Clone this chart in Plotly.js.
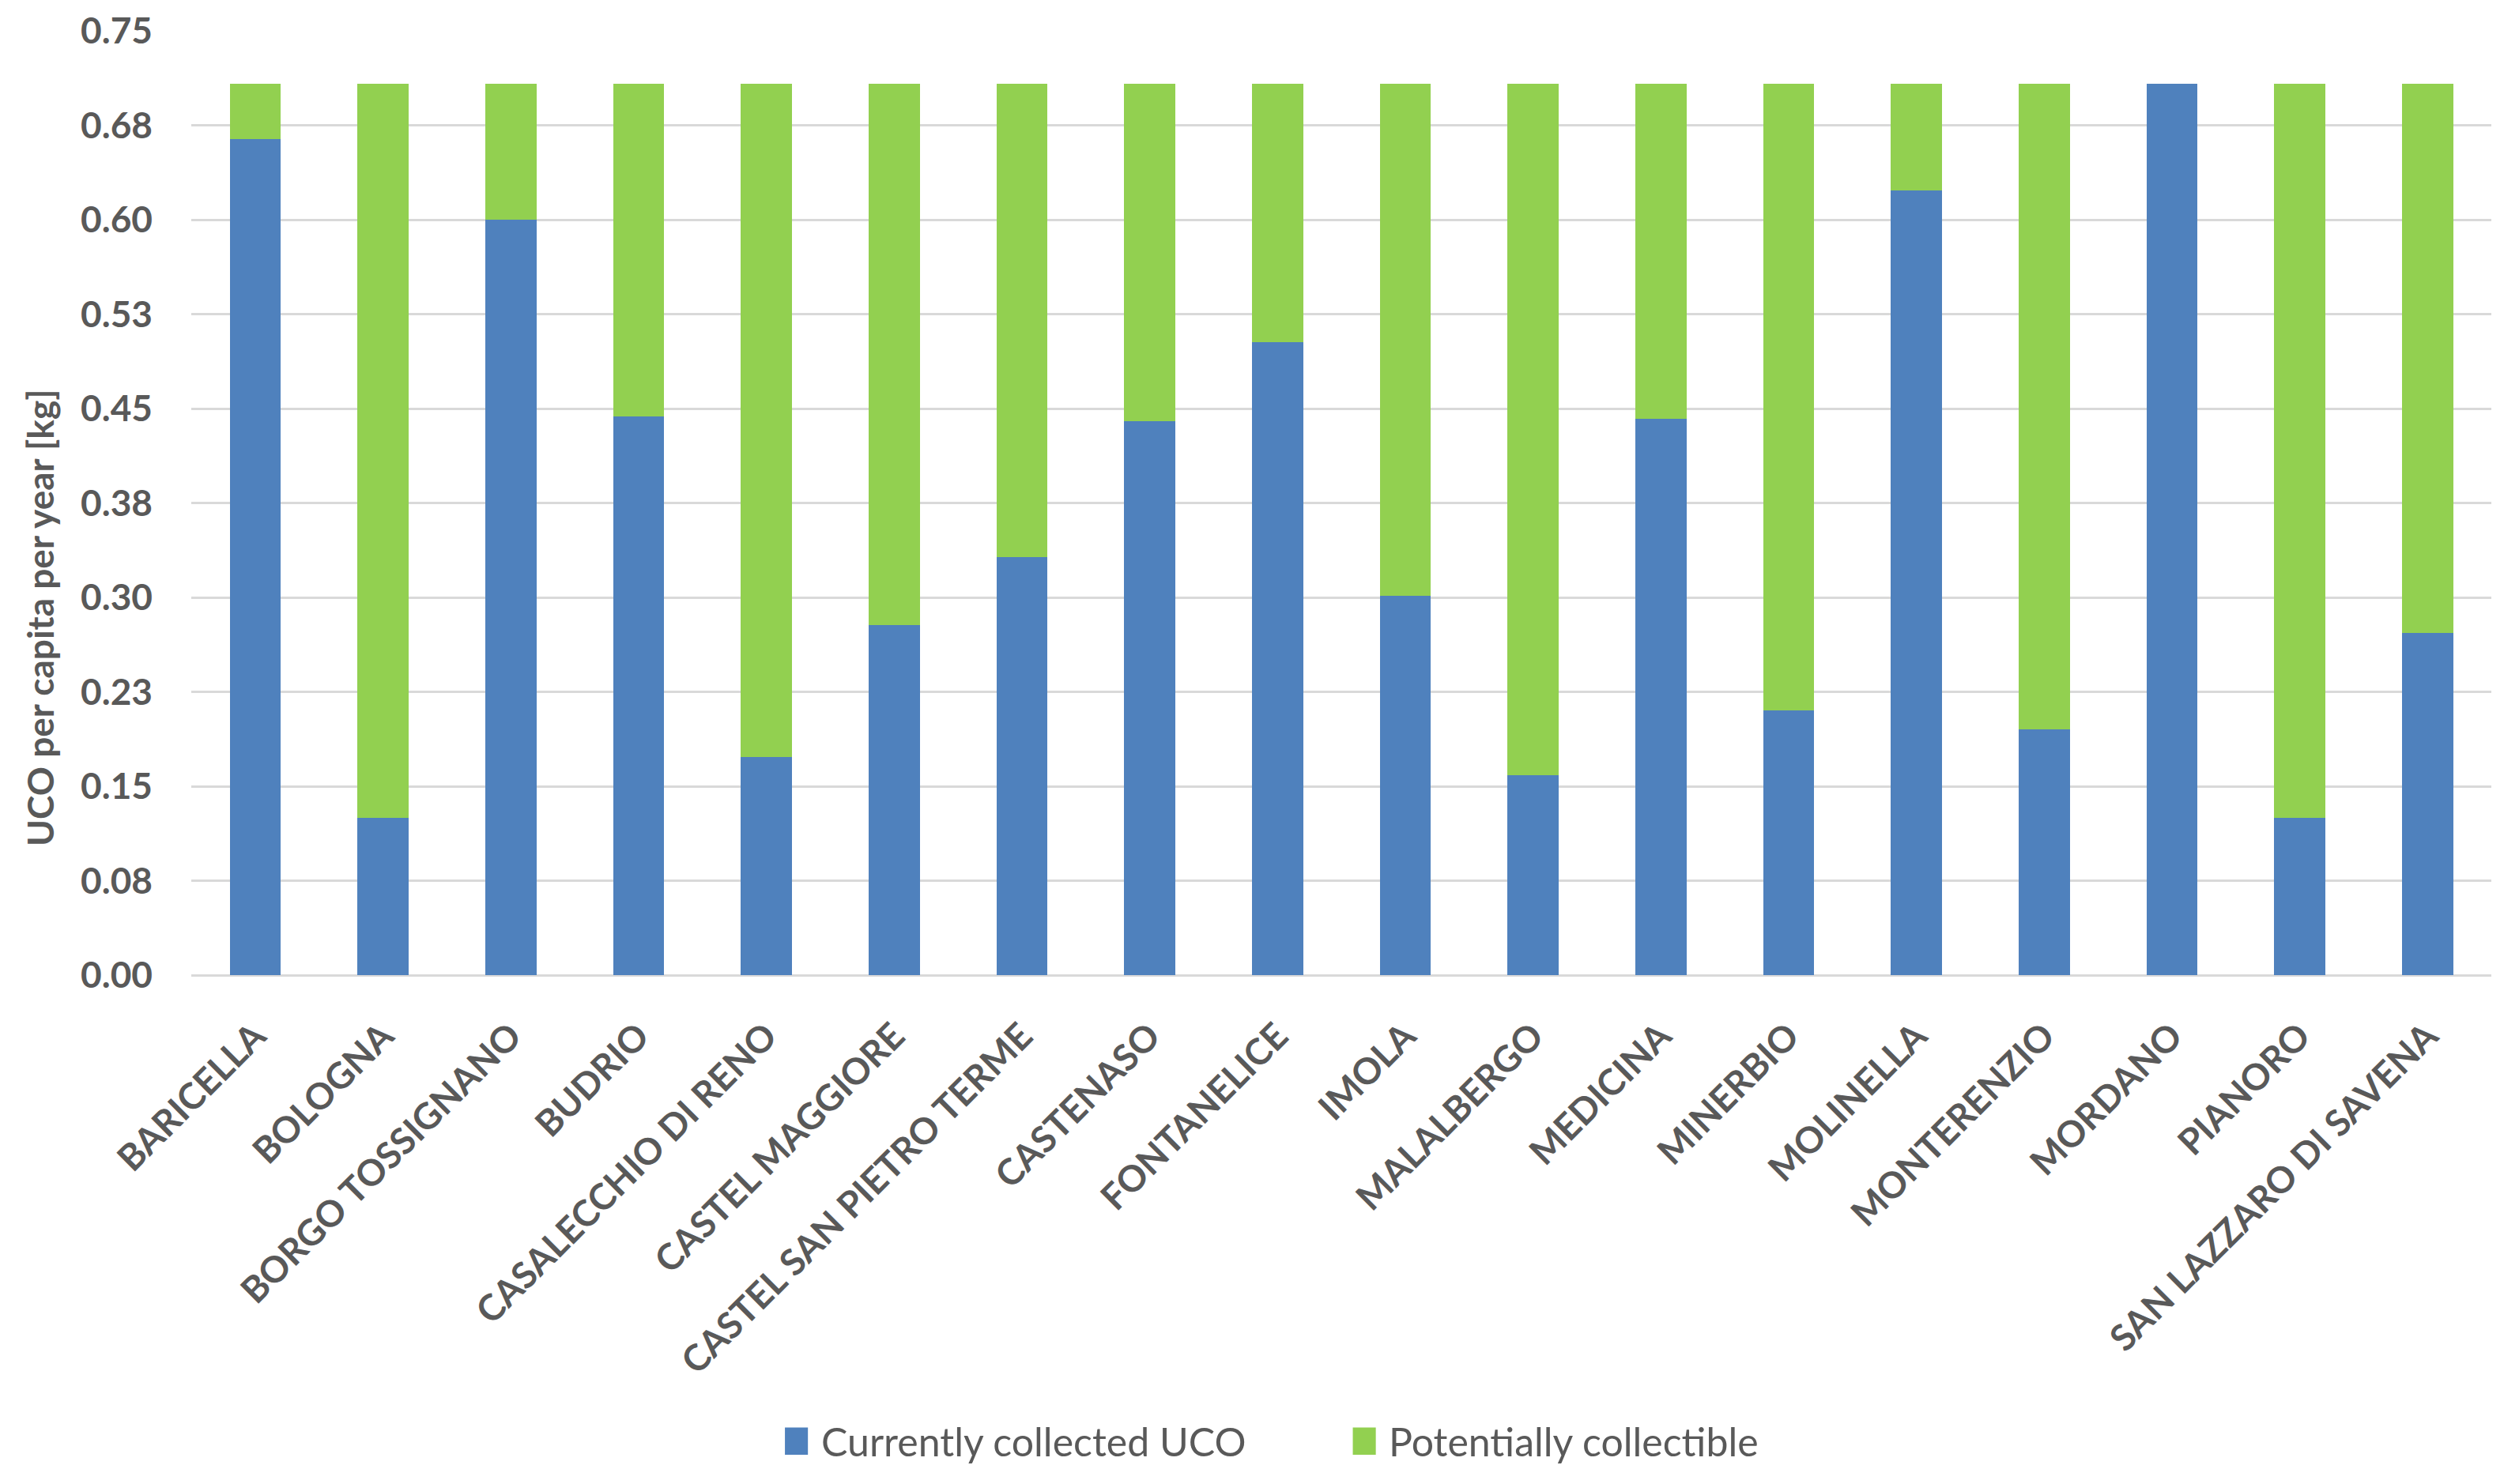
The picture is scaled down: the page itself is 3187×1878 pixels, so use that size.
<!DOCTYPE html>
<html>
<head>
<meta charset="utf-8">
<script src="https://cdn.plot.ly/plotly-3.0.1.min.js"></script>
<style>
  html, body { margin: 0; padding: 0; background: #fff; }
  #chart { width: 3187px; height: 1878px; }
</style>
</head>
<body>
<div id="chart"></div>
<script>
const municipalities = [
    'BARICELLA', 'BOLOGNA', 'BORGO TOSSIGNANO', 'BUDRIO', 'CASALECCHIO DI RENO',
    'CASTEL MAGGIORE', 'CASTEL SAN PIETRO TERME', 'CASTENASO', 'FONTANELICE', 'IMOLA',
    'MALALBERGO', 'MEDICINA', 'MINERBIO', 'MOLINELLA', 'MONTERENZIO',
    'MORDANO', 'PIANORO', 'SAN LAZZARO DI SAVENA'
];
const collectedUCO = [0.664, 0.125, 0.600, 0.444, 0.173, 0.278, 0.332, 0.440, 0.503, 0.301,
                      0.159, 0.442, 0.210, 0.623, 0.195, 0.708, 0.125, 0.272];
const potentialUCO = [0.044, 0.583, 0.108, 0.264, 0.535, 0.430, 0.376, 0.268, 0.205, 0.407,
                      0.549, 0.266, 0.498, 0.085, 0.513, 0.000, 0.583, 0.436];
const yTickLabels = ['0.00', '0.08', '0.15', '0.23', '0.30', '0.38', '0.45', '0.53', '0.60', '0.68', '0.75'];
const seriesNames = ['Currently collected UCO', 'Potentially collectible'];
const seriesColors = ['#4F81BD', '#92D050'];

const FONT = 'Lato, "Open Sans", sans-serif';
const TEXT = '#595959';

const traces = seriesNames.map((name, i) => ({
    x: municipalities, y: i === 0 ? collectedUCO : potentialUCO,
    name: name, type: 'bar', marker: { color: seriesColors[i] }
}));

// hand-made legend below the axis: plotly's bar swatches are too small
const legendKeyX = [0.2581, 0.5050];   // left edge of each square, paper coords
const shapes = [], annotations = [];
seriesNames.forEach((name, i) => {
    shapes.push({
        type: 'rect', xref: 'paper', yref: 'paper',
        x0: legendKeyX[i], x1: legendKeyX[i] + 0.0100, y0: -0.508, y1: -0.479,
        fillcolor: seriesColors[i], line: { width: 0 }
    });
    annotations.push({
        text: name, xref: 'paper', yref: 'paper', x: legendKeyX[i] + 0.0151, y: -0.4935,
        xanchor: 'left', yanchor: 'middle', showarrow: false,
        font: { family: FONT, size: 50, color: TEXT }
    });
});

annotations.push({
    text: 'UCO per capita per year [kg]', textangle: -90,
    xref: 'paper', yref: 'paper', x: -0.066, y: 0.379,
    xanchor: 'center', yanchor: 'middle', showarrow: false,
    font: { family: FONT, size: 46, color: TEXT, weight: 'bold' }
});

const layout = {
    width: 3187, height: 1878,
    paper_bgcolor: '#fff', plot_bgcolor: '#fff',
    font: { family: FONT, color: TEXT, size: 46 },
    barmode: 'stack',
    bargap: 0.6,
    margin: { l: 242, r: 35, t: 39, b: 644 },
    showlegend: false,
    xaxis: {
        type: 'category', tickangle: -45, showgrid: false, showline: false, zeroline: false,
        tickfont: { family: FONT, size: 46, color: TEXT, weight: 'bold' },
        ticklabelstandoff: 40, fixedrange: true
    },
    yaxis: {
        range: [0, 0.75],
        tickvals: yTickLabels.map((_, i) => i * 0.075),
        ticktext: yTickLabels,
        gridcolor: '#D9D9D9', gridwidth: 3,
        zeroline: true, zerolinecolor: '#D9D9D9', zerolinewidth: 3,
        showline: false,
        tickfont: { family: FONT, size: 46, color: TEXT, weight: 'bold' },
        ticklabelstandoff: 48, fixedrange: true
    },
    shapes: shapes,
    annotations: annotations
};

Plotly.newPlot('chart', traces, layout, { displayModeBar: false, staticPlot: true });
</script>
</body>
</html>
